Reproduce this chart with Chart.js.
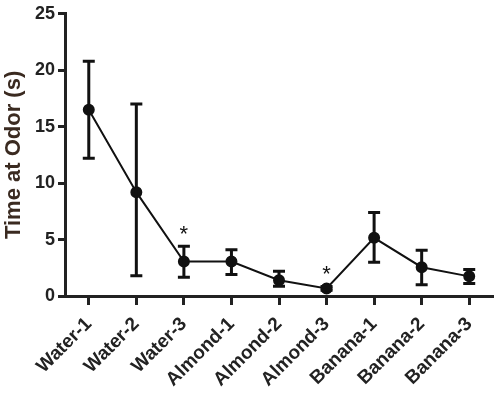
<!DOCTYPE html>
<html><head><meta charset="utf-8">
<script src="https://cdn.jsdelivr.net/npm/chart.js@4/dist/chart.umd.min.js"></script>
<style>html,body{margin:0;padding:0;background:#fff}#wrap{width:500px;height:398px}</style>
</head><body><div id="wrap"><canvas id="c"></canvas></div>
<script>
const categories = ["Water-1","Water-2","Water-3","Almond-1","Almond-2","Almond-3","Banana-1","Banana-2","Banana-3"];
const means = [16.5, 9.2, 3.05, 3.05, 1.4, 0.67, 5.15, 2.55, 1.74];
const upper = [20.8, 17.0, 4.4, 4.1, 2.2, 0.85, 7.4, 4.05, 2.35];
const lower = [12.2, 1.8, 1.65, 1.9, 0.87, 0.5, 3.0, 1.0, 1.1];
const significant = [false, false, true, false, false, true, false, false, false];
const yTicks = [0, 5, 10, 15, 20, 25];

const FONT = "'Liberation Sans', Arial, sans-serif";

const errorBars = {
  id: 'errorBars',
  afterDatasetsDraw(chart) {
    const {ctx, scales: {x, y}} = chart;
    ctx.save();
    ctx.strokeStyle = '#111';
    ctx.lineWidth = 3;
    ctx.lineCap = 'butt';
    categories.forEach((c, i) => {
      const px = x.getPixelForValue(i);
      const pu = y.getPixelForValue(upper[i]);
      const pl = y.getPixelForValue(lower[i]);
      ctx.beginPath();
      ctx.moveTo(px, pu); ctx.lineTo(px, pl);
      ctx.moveTo(px - 6, pu); ctx.lineTo(px + 6, pu);
      ctx.moveTo(px - 6, pl); ctx.lineTo(px + 6, pl);
      ctx.stroke();
      if (significant[i]) {
        ctx.fillStyle = '#111';
        ctx.font = "22px " + FONT;
        ctx.textAlign = 'center';
        ctx.textBaseline = 'middle';
        ctx.fillText('*', px, pu - 11);
      }
    });
    ctx.restore();
  }
};

new Chart(document.getElementById('c'), {
  type: 'line',
  data: {
    labels: categories,
    datasets: [{
      data: means,
      borderColor: '#111',
      borderWidth: 2,
      backgroundColor: '#111',
      pointRadius: 5,
      pointBackgroundColor: '#111',
      pointBorderColor: '#111',
      tension: 0
    }]
  },
  options: {
    responsive: true,
    maintainAspectRatio: false,
    animation: false,
    layout: { padding: { top: 8, right: 2, left: 0, bottom: 0 } },
    plugins: { legend: { display: false }, tooltip: { enabled: false } },
    scales: {
      x: {
        type: 'category',
        offset: true,
        border: { display: true, color: '#222', width: 3 },
        grid: { display: true, drawOnChartArea: false, drawTicks: true, tickLength: 9, tickColor: '#222', tickWidth: 3, offset: false },
        ticks: {
          color: '#222', minRotation: 45, maxRotation: 45, padding: 8,
          font: { family: FONT, size: 19, weight: 'bold' }
        },
        afterFit(s) { s.height = 102; }
      },
      y: {
        min: 0, max: 25,
        afterBuildTicks(s) { s.ticks = yTicks.map(v => ({ value: v })); },
        border: { display: true, color: '#222', width: 3 },
        grid: { display: true, drawOnChartArea: false, drawTicks: true, tickLength: 7, tickColor: '#222', tickWidth: 3 },
        ticks: { color: '#222', padding: 3, font: { family: FONT, size: 18, weight: 'bold' } },
        title: { display: true, text: 'Time at Odor (s)', color: '#3a2a20', padding: 1, font: { family: FONT, size: 22, weight: 'bold' } },
        afterFit(s) { s.width = 65; }
      }
    }
  },
  plugins: [errorBars]
});
</script>
</body></html>
